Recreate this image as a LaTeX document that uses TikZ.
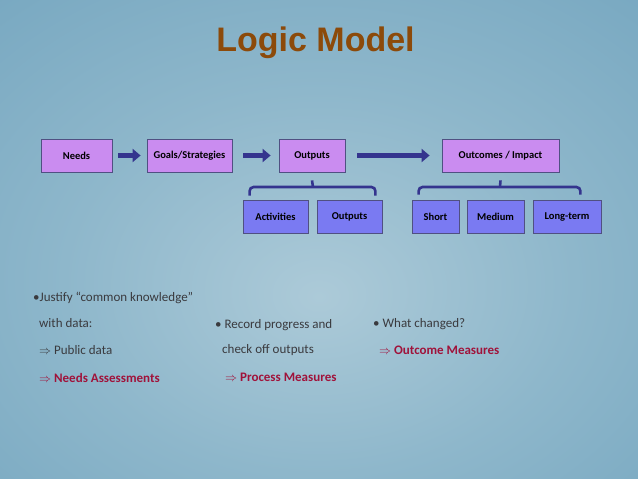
\documentclass[tikz,border=0pt]{standalone}
\usepackage{fontspec}
\setmainfont{Carlito}
\newfontfamily\titlefont{Liberation Sans}
\usetikzlibrary{arrows.meta,calc}
\definecolor{bgin}{RGB}{172,202,216}
\definecolor{bgmid}{RGB}{142,183,203}
\definecolor{bgtop}{RGB}{114,164,190}
\definecolor{bgout}{RGB}{76,140,172}
\definecolor{topfill}{RGB}{202,140,240}
\definecolor{subfill}{RGB}{122,122,242}
\definecolor{boxline}{RGB}{80,80,130}
\definecolor{flowblue}{RGB}{52,52,142}
\definecolor{titlebrown}{RGB}{140,74,10}
\definecolor{measred}{RGB}{160,18,58}
\definecolor{bodygray}{RGB}{58,58,62}
\pgfdeclareradialshading{slidebg}{\pgfpoint{0bp}{-6bp}}{color(0bp)=(bgin); color(20bp)=(bgmid); color(44bp)=(bgtop); color(68bp)=(bgout); color(80bp)=(bgout)}
\tikzset{
  topbox/.style={draw=boxline, line width=0.8pt, fill=topfill, minimum height=33pt,
    inner sep=0pt, font=\fontsize{10.5}{12}\selectfont\bfseries},
  subbox/.style={draw=boxline, line width=0.8pt, fill=subfill, minimum height=33pt,
    inner sep=0pt, font=\fontsize{10.5}{12}\selectfont\bfseries},
  flowarrow/.style={draw=flowblue, line width=5.5pt, -{Triangle[length=8pt,width=13pt]}},
  brace/.style={draw=flowblue, line width=2.6pt, rounded corners=4pt},
  bodytext/.style={anchor=base west, inner sep=0pt, text=bodygray, font=\fontsize{13}{15}\selectfont},
  meastext/.style={bodytext, text=measred, font=\fontsize{13}{15}\selectfont\bfseries}
}
\begin{document}
\begin{tikzpicture}[x=1pt,y=-1pt]
\shade[shading=slidebg] (0,0) rectangle (638,479);
\useasboundingbox (0,0) rectangle (638,479);

\node[anchor=base, inner sep=0pt, text=titlebrown, font=\titlefont\fontsize{34}{40}\selectfont\bfseries]
  (title) at (315.5,52) {Logic Model};

% top row
\node[topbox, minimum width=71pt] (needs) at (76.5,155.5) {Needs};
\node[topbox, minimum width=85pt] (goals) at (189.5,155.5) {Goals/Strategies};
\node[topbox, minimum width=66pt] (outtop) at (312,155.5) {Outputs};
\node[topbox, minimum width=117pt] (outcomes) at (500.5,155.5) {Outcomes / Impact};

\draw[flowarrow, shorten <=6pt, shorten >=6pt] (needs) -- (goals);
\draw[flowarrow, shorten <=11pt, shorten >=8pt] (goals) -- (outtop);
\draw[flowarrow, shorten <=12pt, shorten >=12pt] (outtop) -- (outcomes);

% second row
\node[subbox, minimum width=65pt] (activities) at (275.5,216.5) {Activities};
\node[subbox, minimum width=65pt] (outsub) at (349.5,216.5) {Outputs};
\node[subbox, minimum width=47pt] (short) at (435.5,216.5) {Short};
\node[subbox, minimum width=57pt] (medium) at (495.5,216.5) {Medium};
\node[subbox, minimum width=68pt] (longterm) at (567,216.5) {Long-term};

% brackets
\draw[brace] ($(activities.north west)+(7,-4)$) |- (313,187) -| ($(outsub.north east)+(-7,-4)$);
\draw[brace] ($(outtop.south)+(0,8)$) -- (313,187);
\draw[brace] ($(short.north west)+(7,-5)$) |- (500,187) -| ($(longterm.north east)+(-21,-5)$);
\draw[brace] ($(outcomes.south)+(0,8)$) -- (500,187);

% notes
\node[bodytext] (needsa) at (33,301) {•Justify “common knowledge”};
\node[bodytext] (needsb) at (39,327) {with data:};
\node[bodytext] (needsc) at (39,354) {$\Rightarrow$ Public data};
\node[meastext] (needsd) at (39,382) {\mdseries$\Rightarrow$ \bfseries Needs Assessments};

\node[bodytext] (proca) at (215,328) {• Record progress and};
\node[bodytext] (procb) at (222,353) {check off outputs};
\node[meastext] (procc) at (225,381) {\mdseries$\Rightarrow$ \bfseries Process Measures};

\node[bodytext] (outca) at (373,327) {• What changed?};
\node[meastext] (outcb) at (379,354) {\mdseries$\Rightarrow$ \bfseries Outcome Measures};
\end{tikzpicture}
\end{document}
